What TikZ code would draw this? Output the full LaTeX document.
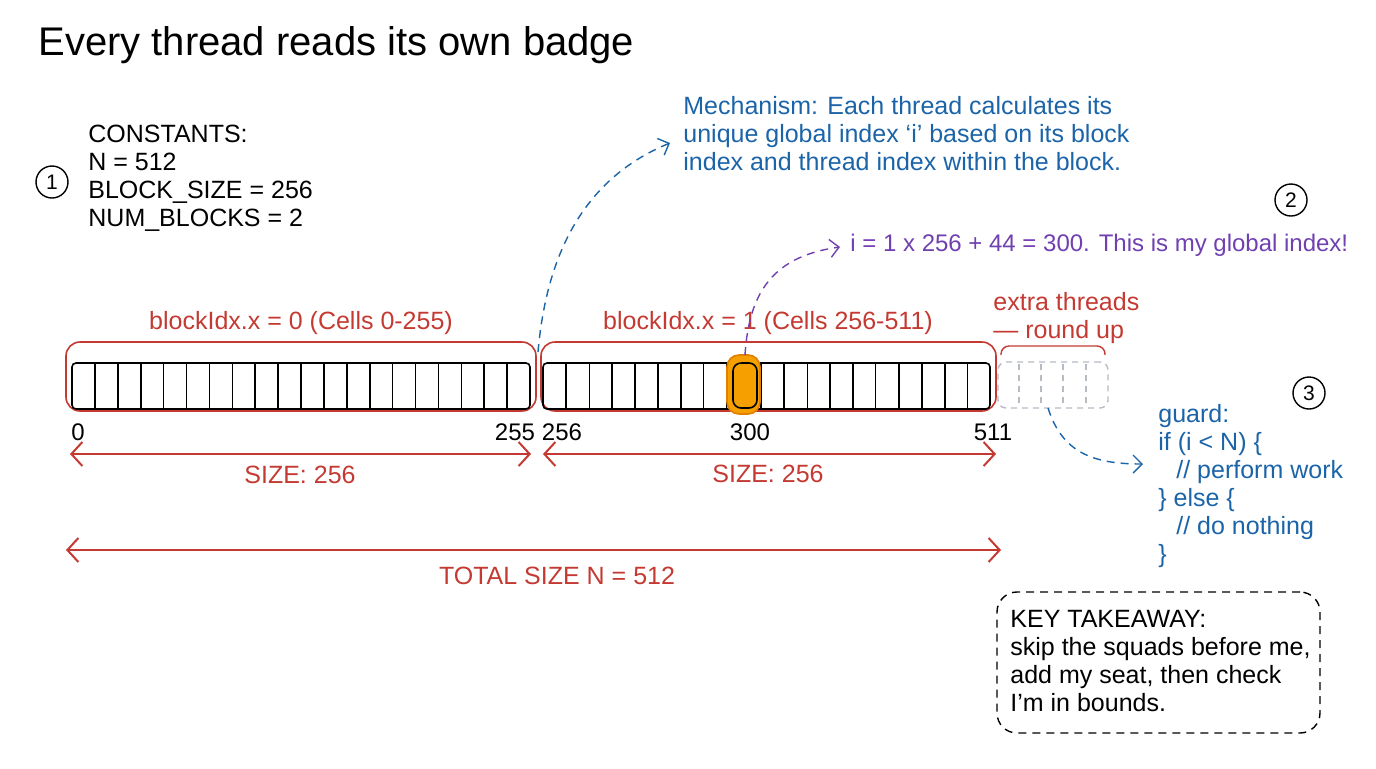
\documentclass[tikz,border=0pt]{standalone}
\usepackage{fontspec}
\setmainfont{Liberation Sans}
\usetikzlibrary{arrows.meta}
\definecolor{cred}{HTML}{C43A32}
\definecolor{cblue}{HTML}{1C64A8}
\definecolor{cpurple}{HTML}{7040B0}
\definecolor{corange}{HTML}{F59F00}
\definecolor{cdorange}{HTML}{E07F00}
\definecolor{cgray}{HTML}{B5BCC4}
\begin{document}
\begin{tikzpicture}[x=0.5pt,y=-0.5pt,
  txt/.style={font=\fontsize{12.5}{14}\selectfont, inner sep=0pt, align=left},
  blockbox/.style={draw=cred, line width=0.8pt, rounded corners=7pt, minimum height=34.5pt},
  cellrow/.style={draw=black, line width=0.8pt, rounded corners=2pt, minimum height=23pt},
  marker/.style={draw=black, circle, line width=0.7pt, minimum size=16pt, inner sep=0pt, font=\fontsize{10.5}{12}\selectfont},
  dim/.style={draw=cred, line width=1pt, {Straight Barb[length=5.5pt,width=12pt]}-{Straight Barb[length=5.5pt,width=12pt]}},
  conn/.style={dashed, dash pattern=on 4pt off 3pt, line width=0.7pt, -{Straight Barb[length=4.5pt,width=9pt]}},
  num/.style={font=\fontsize{12}{14}\selectfont, inner sep=0pt}
]
\useasboundingbox (0,0) rectangle (1376,768);

% title
\node[anchor=base west, inner sep=0pt, font=\fontsize{20}{24}\selectfont] (title) at (38,55) {Every thread reads its own badge};

% constants
\node[marker] (m1) at (52,182) {1};
\node[txt, anchor=north west] (consts) at (88,125) {CONSTANTS:\\N = 512\\BLOCK\_SIZE = 256\\NUM\_BLOCKS = 2};

% mechanism text
\node[txt, anchor=north west, text=cblue] (mech) at (683,96) {Mechanism: Each thread calculates its\\unique global index `i' based on its block\\index and thread index within the block.};

% marker 2 and purple text
\node[marker] (m2) at (1291,200) {2};
\node[txt, font=\fontsize{12}{14}\selectfont, anchor=base west, text=cpurple] (calc) at (850,251) {i = 1 x 256 + 44 = 300. This is my global index!};

% block labels
\node[txt, anchor=base, text=cred] (lab0) at (301,329) {blockIdx.x = 0 (Cells 0-255)};
\node[txt, anchor=base, text=cred] (lab1) at (768,329) {blockIdx.x = 1 (Cells 256-511)};
\node[txt, anchor=north west, text=cred] (extralab) at (993,292) {extra threads\\--- round up};

% block outlines
\node[blockbox, minimum width=235pt] (block0) at (301,376.5) {};
\node[blockbox, minimum width=227.5pt] (block1) at (768.5,376.5) {};

% cell rows
\node[cellrow, minimum width=229pt] (row0) at (301,386) {};
\foreach \i in {1,...,19} \draw[line width=0.8pt] (72+\i*22.9,363) -- (72+\i*22.9,409);
\node[cellrow, minimum width=223.5pt] (row1) at (766.5,386) {};
\foreach \xx in {566,589.3,612,634.7,657.7,680.7,703.3,726.5,761,784,807.3,830,852.7,875.3,898.7,922,944.7,967.3}
  \draw[line width=0.8pt] (\xx,363) -- (\xx,409);

% highlighted thread
\node[draw=cdorange, fill=corange, line width=0.8pt, rounded corners=6pt, minimum width=16.5pt, minimum height=29.5pt, inner sep=0pt] (hl) at (743.5,384.5) {};
\node[draw=black, fill=corange, line width=0.8pt, rounded corners=4pt, minimum width=12pt, minimum height=22.5pt, inner sep=0pt] (hlcell) at (745,385.5) {};

% extra ghost cells
\node[draw=cgray, dashed, dash pattern=on 3pt off 2.5pt, line width=0.7pt, rounded corners=4pt, minimum width=55pt, minimum height=23pt, inner sep=0pt] (ghost) at (1053,385) {};
\foreach \xx in {1019,1041,1063,1086}
  \draw[cgray, dashed, dash pattern=on 3pt off 2.5pt, line width=0.7pt] (\xx,364) -- (\xx,407);
\draw[cred, line width=0.7pt, rounded corners=4pt] (1001,355) -- (1001,346) -- (1105,346) -- (1105,355);

% index numbers
\node[num] (n0) at (78,432) {0};
\node[num] (n255) at (515,432) {255};
\node[num] (n256) at (562,432) {256};
\node[num] (n300) at (750,432) {300};
\node[num] (n511) at (993,432) {511};

% dimension arrows
\coordinate (d0a) at (70,454);
\coordinate (d0b) at (531,454);
\coordinate (d1a) at (543,454);
\coordinate (d1b) at (996,454);
\coordinate (dta) at (66,550);
\coordinate (dtb) at (1001,550);
\draw[dim] (d0a) -- (d0b);
\draw[dim] (d1a) -- (d1b);
\draw[dim] (dta) -- (dtb);
\node[txt, text=cred] (size0) at (300,475) {SIZE: 256};
\node[txt, text=cred] (size1) at (768,474) {SIZE: 256};
\node[txt, text=cred] (total) at (557,576) {TOTAL SIZE N = 512};

% guard
\node[marker] (m3) at (1309,393) {3};
\node[txt, anchor=north west, text=cblue] (guard) at (1158,404) {guard:\\if (i < N) \{\\\hspace*{9pt}// perform work\\\} else \{\\\hspace*{9pt}// do nothing\\\}};

% key takeaway
\node[draw=black, dashed, dash pattern=on 4pt off 3pt, line width=0.7pt, rounded corners=10pt, minimum width=161.5pt, minimum height=70.5pt] (keybox) at (1158.5,662.5) {};
\node[txt, anchor=north west] (key) at (1010,610) {KEY TAKEAWAY:\\skip the squads before me,\\add my seat, then check\\I'm in bounds.};

% connectors
\coordinate (c1s) at (538,352);
\coordinate (c1e) at (670,143);
\draw[conn, cblue] (c1s) .. controls (546,260) and (580,180) .. (c1e);
\coordinate (c2s) at (745,355);
\coordinate (c2e) at (840,247);
\draw[conn, cpurple] (c2s) .. controls (749,290) and (775,256) .. (c2e);
\coordinate (c3s) at (1048,408);
\coordinate (c3e) at (1143,464);
\draw[conn, cblue] (c3s) .. controls (1062,452) and (1092,464) .. (c3e);
\end{tikzpicture}
\end{document}
